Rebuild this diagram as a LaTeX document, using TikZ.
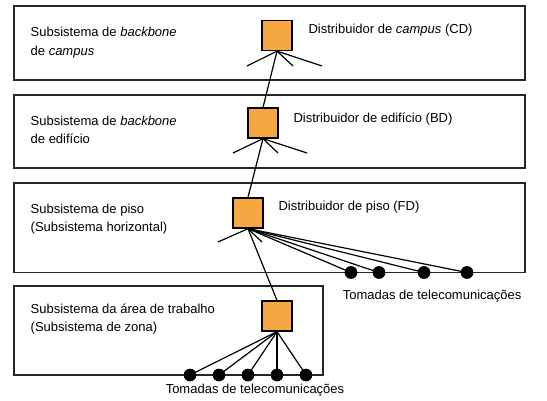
\documentclass[tikz,border=0pt]{standalone}
\usepackage{fontspec}
\setmainfont{Liberation Sans}
\definecolor{distorange}{RGB}{246,166,66}
\begin{document}
\begin{tikzpicture}[x=1pt,y=-1pt,
  sysbox/.style={draw=black!85, line width=1.6pt},
  dist/.style={rectangle, draw=black, line width=1.3pt, fill=distorange, minimum size=30pt, inner sep=0pt},
  outlet/.style={circle, fill=black, minimum size=12.5pt, inner sep=0pt},
  wire/.style={line width=1.2pt},
  lbl/.style={anchor=base west, inner sep=0pt, align=left, font=\fontsize{13}{18.4}\selectfont}]
\useasboundingbox (0,0) rectangle (547,401);
\fill[white] (0,0) rectangle (547,401);

% subsystem boxes
\draw[sysbox] (14,6) rectangle (525,80);
\draw[sysbox] (14,95) rectangle (525,168);
\draw[sysbox] (14,183) rectangle (525,272.5);
\draw[sysbox] (14,286) rectangle (323,375);

% distributors
\node[dist] (cd) at (277,35.5) {};
\node[dist] (bd) at (263,123) {};
\node[dist] (fd) at (248,213) {};
\node[dist] (wa) at (277,316) {};

% free ends of fans
\coordinate (cd1) at (247,66);
\coordinate (cd2) at (293,66);
\coordinate (cd3) at (322,66);
\coordinate (bd1) at (233,153);
\coordinate (bd2) at (278,153);
\coordinate (bd3) at (307,153);
\coordinate (fd1) at (218,242);
\coordinate (fd2) at (262,242);

% outlets
\node[outlet] (o1) at (351,272.5) {};
\node[outlet] (o2) at (379,272.5) {};
\node[outlet] (o3) at (424,272.5) {};
\node[outlet] (o4) at (467,272.5) {};
\node[outlet] (w1) at (190,375) {};
\node[outlet] (w2) at (219,375) {};
\node[outlet] (w3) at (248,375) {};
\node[outlet] (w4) at (277,375) {};
\node[outlet] (w5) at (306,375) {};

% backbone chain
\draw[wire] (cd.south) -- (bd.north);
\draw[wire] (bd.south) -- (fd.north);
\draw[wire] (fd.south) -- (wa.north);

% fans
\draw[wire] (cd.south) -- (cd1);
\draw[wire] (cd.south) -- (cd2);
\draw[wire] (cd.south) -- (cd3);
\draw[wire] (bd.south) -- (bd1);
\draw[wire] (bd.south) -- (bd2);
\draw[wire] (bd.south) -- (bd3);
\draw[wire] (fd.south) -- (fd1);
\draw[wire] (fd.south) -- (fd2);
\draw[wire] (fd.south) -- (o1.center);
\draw[wire] (fd.south) -- (o2.center);
\draw[wire] (fd.south) -- (o3.center);
\draw[wire] (fd.south) -- (o4.center);
\draw[wire] (wa.south) -- (w1.center);
\draw[wire] (wa.south) -- (w2.center);
\draw[wire] (wa.south) -- (w3.center);
\draw[wire] (wa.south) -- (w4.center);
\draw[wire] (wa.south) -- (w5.center);

% redraw outlets on top
\foreach \n in {o1,o2,o3,o4,w1,w2,w3,w4,w5}{\fill (\n) circle (6.25pt);}

% labels (multi-line nodes: base anchor = baseline of the last line)
\node[lbl] (t1) at (30.5,55.1) {Subsistema de \textit{backbone}\\de \textit{campus}};
\node[lbl] (t2) at (30.5,143.7) {Subsistema de \textit{backbone}\\de edifício};
\node[lbl] (t3) at (30.5,231.7) {Subsistema de piso\\(Subsistema horizontal)};
\node[lbl] (t4) at (30.5,331.7) {Subsistema da área de trabalho\\(Subsistema de zona)};
\node[lbl] (d1) at (308.3,33.5) {Distribuidor de \textit{campus} (CD)};
\node[lbl] (d2) at (293.3,122.7) {Distribuidor de edifício (BD)};
\node[lbl] (d3) at (278.3,211) {Distribuidor de piso (FD)};
\node[lbl] (tm1) at (342.7,300) {Tomadas de telecomunicações};
\node[lbl, anchor=base] (tm2) at (255,393) {Tomadas de telecomunicações};
\end{tikzpicture}
\end{document}
